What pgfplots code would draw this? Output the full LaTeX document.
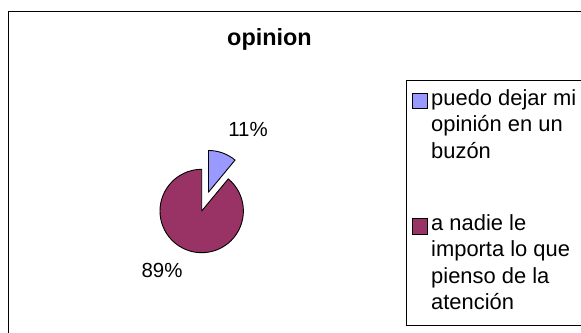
\documentclass[border=0pt]{standalone}
\usepackage{pgfplots}
\usepackage{pgfplotstable}
\pgfplotsset{compat=1.18}
\usetikzlibrary{calc}
\usepackage{fontspec}
\setmainfont{Liberation Sans}
\definecolor{cblue}{HTML}{9999FF}
\definecolor{cmaroon}{HTML}{993366}
\pgfplotstableread{
slice value
0 11
1 89
}\piedata
\begin{document}
\begin{tikzpicture}
\pgfplotstablegetelem{0}{value}\of\piedata \let\va\pgfplotsretval
\pgfplotstablegetelem{1}{value}\of\piedata \let\vb\pgfplotsretval
\pgfmathsetmacro{\aend}{90-3.6*\va}
\pgfmathsetmacro{\bend}{\aend-3.6*\vb}
\pgfmathsetmacro{\amid}{90-1.8*\va}
\def\cx{201.7}\def\cy{122}\def\rr{41.7}
\useasboundingbox (0,0) rectangle (581bp,333bp);
\clip (0,0) rectangle (581bp,333bp);
\begin{axis}[x=1bp,y=1bp,xmin=0,xmax=581,ymin=0,ymax=333,hide axis,clip=false,scale only axis]
% outer frame
\draw[black,line width=0.8bp] (axis cs:8.5,-20) -- (axis cs:8.5,321.5) -- (axis cs:620,321.5);
% pie slices
\filldraw[fill=cmaroon,draw=black,line width=0.9bp,line join=round]
  (axis cs:\cx,\cy) -- ++(\aend:\rr bp) arc[start angle=\aend,end angle=\bend,radius=\rr bp] -- cycle;
\filldraw[fill=cblue,draw=black,line width=0.9bp,line join=round]
  ($(axis cs:\cx,\cy)+(\amid:20bp)$) -- ++(90:\rr bp) arc[start angle=90,end angle=\aend,radius=\rr bp] -- cycle;
% data labels
\node[font=\fontsize{20.5}{24}\selectfont,inner sep=0] at (axis cs:248,204) {\va\%};
\node[font=\fontsize{20.5}{24}\selectfont,inner sep=0] at (axis cs:162,62.5) {\vb\%};
% title
\node[font=\fontsize{23.5}{28}\selectfont\bfseries,inner sep=0,anchor=base] at (axis cs:269.5,288) {opinion};
% legend box
\draw[black,line width=0.8bp] (axis cs:620,253) -- (axis cs:406,253) -- (axis cs:406,8) -- (axis cs:620,8);
\filldraw[fill=cblue,draw=black,line width=0.9bp] (axis cs:412.5,225) rectangle (axis cs:427.5,240);
\filldraw[fill=cmaroon,draw=black,line width=0.9bp] (axis cs:412.5,99) rectangle (axis cs:427.5,115);
\begin{scope}[every node/.style={font=\fontsize{22}{26}\selectfont,inner sep=0,anchor=base west}]
\node at (axis cs:431,228) {puedo dejar mi};
\node at (axis cs:431,201.5) {opinión en un};
\node at (axis cs:431,175) {buzón};
\node at (axis cs:431,103) {a nadie le};
\node at (axis cs:431,76.5) {importa lo que};
\node at (axis cs:431,50) {pienso de la};
\node at (axis cs:431,23.5) {atención};
\end{scope}
\end{axis}
\end{tikzpicture}
\end{document}
